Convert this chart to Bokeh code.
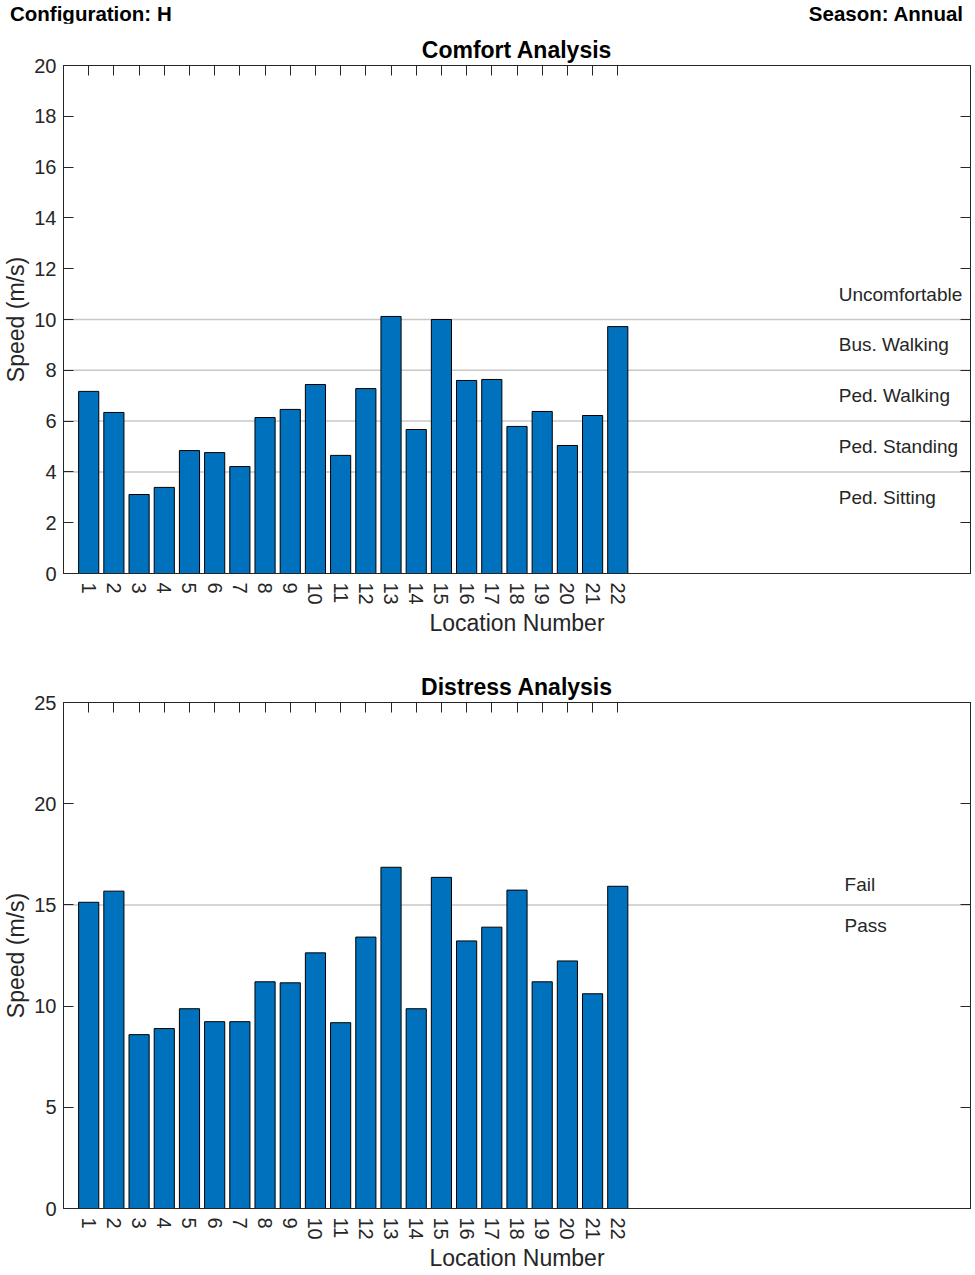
from bokeh.plotting import figure
from bokeh.models import Span, LinearAxis, FixedTicker, Range1d, ColumnDataSource, Title, Div
from bokeh.layouts import column
from bokeh.embed import file_html
from bokeh.resources import INLINE
from bokeh.core.properties import value

# ---------------- data ----------------
locations = list(range(1, 23))
comfort_speed = [7.17, 6.34, 3.11, 3.39, 4.84, 4.76, 4.21, 6.14, 6.46, 7.44, 4.65,
                 7.28, 10.12, 5.67, 10.00, 7.60, 7.64, 5.79, 6.38, 5.04, 6.22, 9.72]
distress_speed = [15.13, 15.68, 8.59, 8.89, 9.87, 9.23, 9.23, 11.20, 11.15, 12.63, 9.18,
                  13.41, 16.86, 9.87, 16.36, 13.22, 13.90, 15.73, 11.20, 12.23, 10.61, 15.92]
comfort_thresholds = [4, 6, 8, 10]
comfort_zones = ["Ped. Sitting", "Ped. Standing", "Ped. Walking", "Bus. Walking", "Uncomfortable"]
comfort_zone_y = [3, 5, 7, 9, 11]
distress_thresholds = [15]
distress_zones = ["Pass", "Fail"]
distress_zone_y = [14, 16]
comfort_yticks = list(range(0, 21, 2))
distress_yticks = [0, 5, 10, 15, 20, 25]
config_text = "Configuration: H"
season_text = "Season: Annual"

# ---------------- style ----------------
FONT = "Liberation Sans"
AX = "#262626"
BAR = "#0072BD"
GRID = "#c8c8c8"
W = 972
BL, BR = 62, 2
XMAX = 36

# header row with configuration / season texts
HDR_H = 23
hdr = Div(
    text=(
        '<div style="display:flex;justify-content:space-between;align-items:flex-start;'
        'width:%dpx;height:%dpx;box-sizing:border-box;padding:2px 9px 0 10px;'
        'line-height:24px;overflow:visible;'
        'font-family:\'Liberation Sans\';font-weight:bold;font-size:20.5px;color:black;">'
        '<span>%s</span><span>%s</span></div>' % (W, HDR_H, config_text, season_text)
    ),
    width=W, height=HDR_H, margin=0,
)


def panel(title, speeds, ymax, yticks, thresholds, zones, zone_y, zone_x,
          height, btop, bbot):
    p = figure(width=W, height=height, output_backend="svg", toolbar_location=None,
               x_range=Range1d(0, XMAX), y_range=Range1d(0, ymax),
               min_border_left=BL, min_border_right=BR,
               min_border_top=btop, min_border_bottom=bbot,
               x_axis_location=None, y_axis_location=None)
    p.xgrid.visible = False
    p.ygrid.visible = False
    p.outline_line_color = AX
    p.outline_line_width = 1
    p.background_fill_color = "white"
    p.border_fill_color = "white"

    for th in thresholds:
        p.add_layout(Span(location=th, dimension="width", line_color=GRID,
                          line_width=1.5, level="underlay"))

    src = ColumnDataSource(dict(x=locations, top=speeds))
    p.vbar(x="x", top="top", bottom=0, width=0.8, source=src,
           fill_color=BAR, line_color="black", line_width=1)

    def style(ax, ticks, labels=True, tick_in=10):
        ax.axis_line_color = AX
        ax.axis_line_width = 1
        ax.major_tick_line_color = AX
        ax.major_tick_line_width = 1
        ax.major_tick_in = tick_in
        ax.major_tick_out = 0
        ax.minor_tick_line_color = None
        ax.major_label_text_font = FONT
        ax.major_label_text_color = AX
        if labels:
            ax.major_label_text_font_size = "20px"
        else:
            ax.major_label_overrides = {tk: "" for tk in ticks}
            ax.major_label_text_font_size = "1px"
            ax.major_label_standoff = 0
        ax.axis_label_text_font = FONT
        ax.axis_label_text_font_size = "23px"
        ax.axis_label_text_font_style = "normal"
        ax.axis_label_text_color = AX

    # top axis first so that it sits right on the frame, title above it
    xt = LinearAxis(ticker=FixedTicker(ticks=locations))
    style(xt, locations, labels=False)
    p.add_layout(xt, "above")

    t = Title(text=title, align="center", text_font=FONT, text_font_size="23px",
              text_font_style="bold", text_color="black", standoff=6)
    p.add_layout(t, "above")

    yl = LinearAxis(ticker=FixedTicker(ticks=yticks), axis_label="Speed (m/s)")
    style(yl, yticks)
    yl.major_label_standoff = 7
    yl.axis_label_standoff = 2
    p.add_layout(yl, "left")

    yr = LinearAxis(ticker=FixedTicker(ticks=yticks))
    style(yr, yticks, labels=False)
    p.add_layout(yr, "right")

    xb = LinearAxis(ticker=FixedTicker(ticks=locations), axis_label="Location Number")
    style(xb, locations, tick_in=0)
    xb.major_label_orientation = "vertical"
    xb.major_label_standoff = 9
    xb.axis_label_standoff = 2
    p.add_layout(xb, "below")

    zsrc = ColumnDataSource(dict(x=[zone_x] * len(zones), y=zone_y, t=zones))
    p.text(x="x", y="y", text="t", source=zsrc, text_align="left",
           text_baseline="middle", text_font=value(FONT),
           text_font_size="19px", text_color=AX)
    return p


p1 = panel("Comfort Analysis", comfort_speed, 20, comfort_yticks,
           comfort_thresholds, comfort_zones, comfort_zone_y, 30.77,
           height=615, btop=42, bbot=65)
p2 = panel("Distress Analysis", distress_speed, 25, distress_yticks,
           distress_thresholds, distress_zones, distress_zone_y, 31.0,
           height=635, btop=64, bbot=65)

layout = column(hdr, p1, p2, spacing=0)
open("out.html", "w").write(file_html(layout, INLINE))
